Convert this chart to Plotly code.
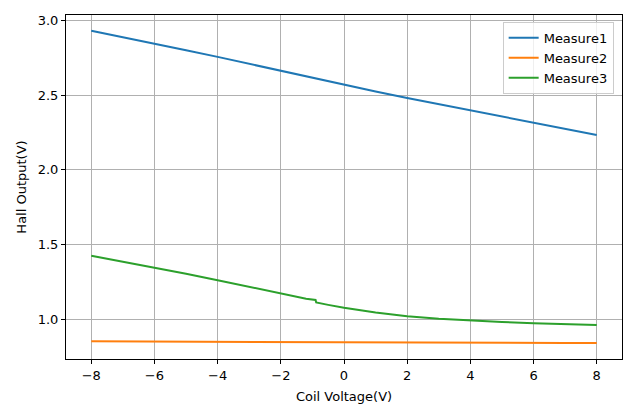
import plotly.graph_objects as go

# Coil voltage samples (V)
coil_v = [-8, -7, -6, -5, -4, -3, -2, -1, 0, 1, 2, 3, 4, 5, 6, 7, 8]

# Hall output readings (V)
measure1 = [2.930, 2.888, 2.845, 2.800, 2.755, 2.708, 2.662, 2.614, 2.567,
            2.523, 2.480, 2.438, 2.398, 2.357, 2.315, 2.273, 2.233]
measure2 = [0.853, 0.852, 0.851, 0.850, 0.849, 0.848, 0.848, 0.847, 0.846,
            0.846, 0.845, 0.845, 0.844, 0.843, 0.843, 0.842, 0.842]

# Measure3 has a small step near -0.9 V, so it is sampled more densely there
coil_v3 = [-8, -7, -6, -5, -4, -3, -2, -1.5, -1.2, -0.9, -0.88, -0.5, 0,
           1, 2, 3, 4, 5, 6, 7, 8]
measure3 = [1.425, 1.386, 1.347, 1.305, 1.262, 1.218, 1.171, 1.147, 1.138,
            1.130, 1.113, 1.097, 1.078, 1.046, 1.021, 1.004, 0.992, 0.982,
            0.974, 0.968, 0.962]

fig = go.Figure()
fig.add_trace(go.Scatter(x=coil_v, y=measure1, mode='lines', name='Measure1',
                         line=dict(color='#1f77b4', width=2)))
fig.add_trace(go.Scatter(x=coil_v, y=measure2, mode='lines', name='Measure2',
                         line=dict(color='#ff7f0e', width=2)))
fig.add_trace(go.Scatter(x=coil_v3, y=measure3, mode='lines', name='Measure3',
                         line=dict(color='#2ca02c', width=2)))

txt = dict(family='DejaVu Sans', size=13, color='black')

axis_style = dict(
    showline=True, linecolor='black', linewidth=1, mirror=True,
    showgrid=True, gridcolor='#b0b0b0', gridwidth=1,
    ticks='outside', ticklen=4, tickcolor='black',
    zeroline=False, automargin=False,
    tickfont=txt,
)

# the page body keeps its default 8px margin, so the figure is sized to fit
fig.update_layout(
    width=632, height=401,
    margin=dict(l=58, r=18, t=7, b=50),
    paper_bgcolor='white', plot_bgcolor='white',
    font=txt,
    showlegend=True,
    legend=dict(x=0.985, y=0.98, xanchor='right', yanchor='top',
                bgcolor='rgba(255,255,255,0.8)', bordercolor='#cccccc',
                borderwidth=1, font=txt,
                itemwidth=30, tracegroupgap=2),
)
fig.update_xaxes(range=[-8.8, 8.8], tickmode='array',
                 tickvals=[-8, -6, -4, -2, 0, 2, 4, 6, 8],
                 ticktext=['−8', '−6', '−4', '−2', '0', '2', '4', '6', '8'],
                 title=dict(text='Coil Voltage(V)', standoff=10, font=txt),
                 **axis_style)
fig.update_yaxes(range=[0.735, 3.035], tickmode='array',
                 tickvals=[1.0, 1.5, 2.0, 2.5, 3.0],
                 ticktext=['1.0', '1.5', '2.0', '2.5', '3.0'],
                 title=dict(text='Hall Output(V)', standoff=8, font=txt),
                 **axis_style)

fig.write_html("out.html")
